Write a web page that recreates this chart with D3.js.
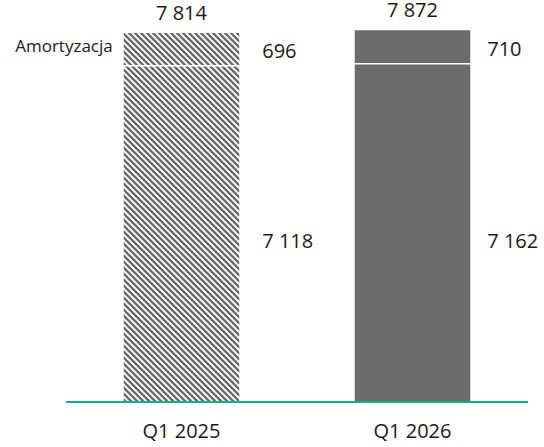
<!DOCTYPE html>
<html><head><meta charset="utf-8">
<script src="https://cdn.jsdelivr.net/npm/d3@7"></script>
<style>body{margin:0;background:#fff}svg{display:block;font-family:"Open Sans",sans-serif}</style>
</head><body>
<svg id="c" width="544" height="447"></svg>
<script>
const categories = ["Q1 2025", "Q1 2026"];
const baseValues = [7118, 7162];
const amortValues = [696, 710];
const totalLabels = ["7 814", "7 872"];
const baseLabels = ["7 118", "7 162"];
const amortLabels = ["696", "710"];
const seriesLabel = "Amortyzacja";

const svg = d3.select("#c");
const defs = svg.append("defs");
const P = 6;
const pat = defs.append("pattern").attr("id","hatch").attr("patternUnits","userSpaceOnUse")
  .attr("width",P).attr("height",P);
pat.append("rect").attr("width",P).attr("height",P).attr("fill","#fff");
pat.append("path").attr("d",`M-1,-1 L${P+1},${P+1} M-1,${P-1} L1,${P+1} M${P-1},-1 L${P+1},1`)
  .attr("stroke","#6b6b6b").attr("stroke-width",2.4);

const x = d3.scaleBand().domain(categories).range([66,528]).paddingInner(0.5).paddingOuter(0.25);
const y = d3.scaleLinear().domain([0,7814]).range([402,33]);
const totals = baseValues.map((v,i)=>v+amortValues[i]);
const fills = ["url(#hatch)", "#6b6b6b"];

const g = svg.append("g");
categories.forEach((c,i)=>{
  g.append("rect").attr("x",x(c)).attr("width",x.bandwidth())
    .attr("y",y(totals[i])).attr("height",y(0)-y(totals[i])).attr("fill",fills[i]);
  g.append("line").attr("x1",x(c)).attr("x2",x(c)+x.bandwidth())
    .attr("y1",y(baseValues[i])).attr("y2",y(baseValues[i]))
    .attr("stroke","#fff").attr("stroke-width",1.5);
});

const axis = svg.append("g").attr("transform","translate(0,402)")
  .call(d3.axisBottom(x).tickSize(0).tickPadding(22));
axis.select(".domain").attr("stroke","#16ab8c").attr("stroke-width",2).attr("d","M66,0H528");
axis.selectAll("text").attr("font-size",20).attr("fill","#1a1a1a").attr("font-family","Open Sans");

const labDx = [23, 17];
categories.forEach((c,i)=>{
  const cx = x(c)+x.bandwidth()/2;
  svg.append("text").attr("x",cx).attr("y",y(totals[i])-13).attr("text-anchor","middle")
    .attr("font-size",20).attr("fill","#1a1a1a").text(totalLabels[i]);
  svg.append("text").attr("x",x(c)+x.bandwidth()+labDx[i])
    .attr("y",(y(totals[i])+y(baseValues[i]))/2+9)
    .attr("font-size",20).attr("fill","#1a1a1a").text(amortLabels[i]);
  svg.append("text").attr("x",x(c)+x.bandwidth()+labDx[i])
    .attr("y",248)
    .attr("font-size",20).attr("fill","#1a1a1a").text(baseLabels[i]);
});
svg.append("text").attr("x",x(categories[0])-11).attr("y",52)
  .attr("text-anchor","end").attr("font-size",17).attr("fill","#1a1a1a").text(seriesLabel);
</script>
</body></html>
